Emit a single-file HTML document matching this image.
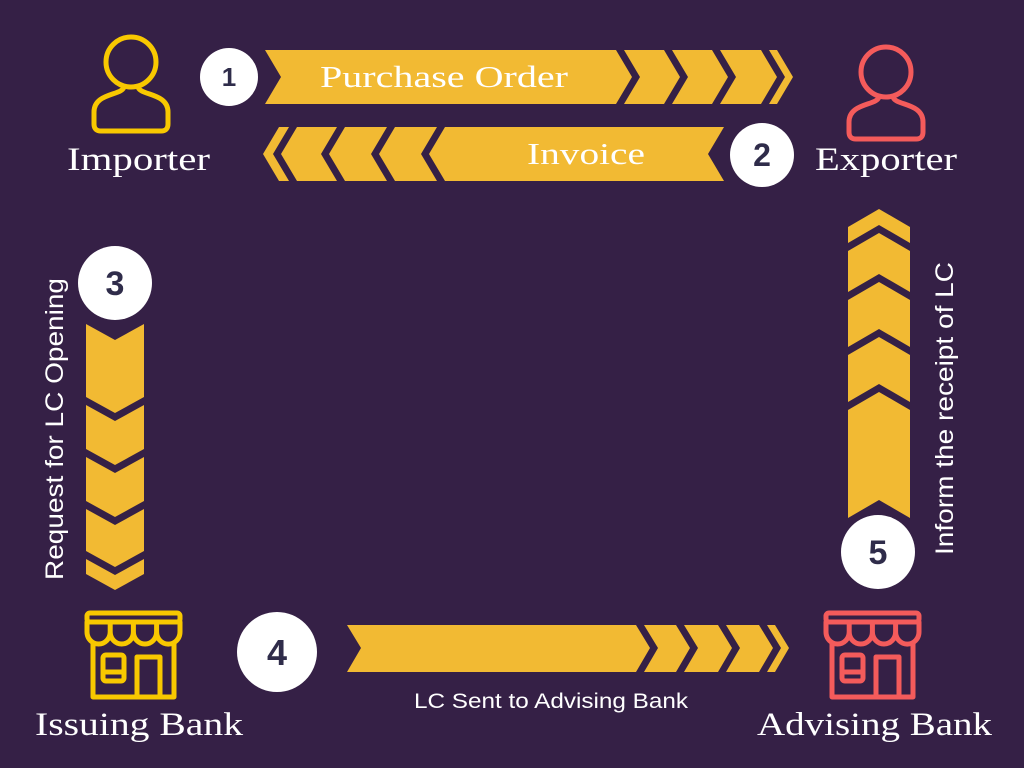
<!DOCTYPE html>
<html><head><meta charset="utf-8"><style>
html,body{margin:0;padding:0;background:#352046;}
svg{display:block}
.s{font-family:"Liberation Serif",serif;fill:#fff}
.n{font-family:"Liberation Sans",sans-serif;font-weight:900;fill:#2f2c4a;text-anchor:middle}
</style></head><body>
<svg width="1024" height="768" viewBox="0 0 1024 768" xmlns="http://www.w3.org/2000/svg">
<rect width="1024" height="768" fill="#352046"/>
<g fill="#f2ba33">
<polygon points="265,50 616,50 632,77 616,104 265,104 281,77"/>
<polygon points="624,50 664,50 680,77 664,104 624,104 640,77"/>
<polygon points="672,50 712,50 728,77 712,104 672,104 688,77"/>
<polygon points="720,50 761,50 777,77 761,104 720,104 736,77"/>
<polygon points="769,50 777,50 793,77 777,104 769,104 785,77"/>

<polygon points="263,154 279,127 289,127 273,154 289,181 279,181"/>
<polygon points="281,154 297,127 337,127 321,154 337,181 297,181"/>
<polygon points="329,154 345,127 387,127 371,154 387,181 345,181"/>
<polygon points="379,154 395,127 437,127 421,154 437,181 395,181"/>
<polygon points="429,154 445,127 724,127 708,154 724,181 445,181"/>

<polygon points="347,625 636,625 650,648 636,672 347,672 361,648"/>
<polygon points="644,625 676,625 690,648 676,672 644,672 658,648"/>
<polygon points="684,625 718,625 732,648 718,672 684,672 698,648"/>
<polygon points="726,625 759,625 773,648 759,672 726,672 740,648"/>
<polygon points="767,625 775,625 789,648 775,672 767,672 781,648"/>

<polygon points="86,324 115,340 144,324 144,397 115,413 86,397"/>
<polygon points="86,405 115,421 144,405 144,449 115,465 86,449"/>
<polygon points="86,457 115,473 144,457 144,501 115,517 86,501"/>
<polygon points="86,509 115,525 144,509 144,551 115,567 86,551"/>
<polygon points="86,559 115,575 144,559 144,574 115,590 86,574"/>

<polygon points="879,209 910,227 910,243 879,225 848,243 848,227"/>
<polygon points="879,233 910,251 910,292 879,274 848,292 848,251"/>
<polygon points="879,282 910,300 910,347 879,329 848,347 848,300"/>
<polygon points="879,337 910,355 910,402 879,384 848,402 848,355"/>
<polygon points="879,392 910,410 910,518 879,500 848,518 848,410"/>
</g>

<g fill="#fff">
<circle cx="229" cy="77" r="29"/>
<circle cx="762" cy="155" r="32"/>
<circle cx="115" cy="283" r="37"/>
<circle cx="277" cy="652" r="40"/>
<circle cx="878" cy="552" r="37"/>
</g>
<text class="n" x="229" y="86" font-size="26">1</text>
<text class="n" x="762" y="166" font-size="32">2</text>
<text class="n" x="115" y="295" font-size="34">3</text>
<text class="n" x="277" y="665" font-size="36">4</text>
<text class="n" x="878" y="564" font-size="34">5</text>

<g fill="none" stroke-width="5" stroke-linejoin="round">
<g stroke="#f8c800">
<circle cx="131" cy="62" r="25"/>
<path d="M124,86 C124,96 94,92 94,112 V124 Q94,131 101,131 H161 Q168,131 168,124 V112 C168,92 138,96 138,86"/>
</g>
<g stroke="#f45b5b">
<circle cx="886" cy="72" r="25"/>
<path d="M879,96 C879,106 849,102 849,122 V132 Q849,139 856,139 H916 Q923,139 923,132 V122 C923,102 893,106 893,96"/>
</g>
</g>

<g fill="none" stroke-width="5" stroke-linejoin="round" stroke-linecap="round">
<g stroke="#f8c800">
<rect x="87" y="613" width="93" height="9" rx="3"/>
<path d="M87,622 V632 a11.6,12 0 0 0 23.2,0 V622 M110.2,632 a11.6,12 0 0 0 23.2,0 V622 M133.4,632 a11.6,12 0 0 0 23.2,0 V622 M156.6,632 a11.6,12 0 0 0 23.4,0 V622"/>
<path d="M93,644 V697 H174 V644"/>
<path d="M137,697 V657 H160 V697"/>
<rect x="103" y="655" width="21" height="26" rx="3"/>
<line x1="103" y1="672" x2="124" y2="672"/>
</g>
<g stroke="#f45b5b">
<rect x="826" y="613" width="93" height="9" rx="3"/>
<path d="M826,622 V632 a11.6,12 0 0 0 23.2,0 V622 M849.2,632 a11.6,12 0 0 0 23.2,0 V622 M872.4,632 a11.6,12 0 0 0 23.2,0 V622 M895.6,632 a11.6,12 0 0 0 23.4,0 V622"/>
<path d="M832,644 V697 H913 V644"/>
<path d="M876,697 V657 H899 V697"/>
<rect x="842" y="655" width="21" height="26" rx="3"/>
<line x1="842" y1="672" x2="863" y2="672"/>
</g>
</g>

<text class="s" x="67" y="170" font-size="33" textLength="143" lengthAdjust="spacingAndGlyphs">Importer</text>
<text class="s" x="815" y="170" font-size="33" textLength="142" lengthAdjust="spacingAndGlyphs">Exporter</text>
<text class="s" x="35" y="735" font-size="33" textLength="208" lengthAdjust="spacingAndGlyphs">Issuing Bank</text>
<text class="s" x="757" y="735" font-size="33" textLength="235" lengthAdjust="spacingAndGlyphs">Advising Bank</text>
<text class="s" x="320" y="87" font-size="31" textLength="248" lengthAdjust="spacingAndGlyphs">Purchase Order</text>
<text class="s" x="527" y="164" font-size="31" textLength="118" lengthAdjust="spacingAndGlyphs">Invoice</text>
<text x="414" y="708" font-size="21" fill="#fff" font-family="Liberation Sans, sans-serif" textLength="274" lengthAdjust="spacingAndGlyphs">LC Sent to Advising Bank</text>
<text transform="translate(63,580) rotate(-90)" font-size="25" fill="#fff" font-family="Liberation Sans, sans-serif" textLength="302" lengthAdjust="spacingAndGlyphs">Request for LC Opening</text>
<text transform="translate(953,555) rotate(-90)" font-size="25" fill="#fff" font-family="Liberation Sans, sans-serif" textLength="293" lengthAdjust="spacingAndGlyphs">Inform the receipt of LC</text>
</svg>
</body></html>
